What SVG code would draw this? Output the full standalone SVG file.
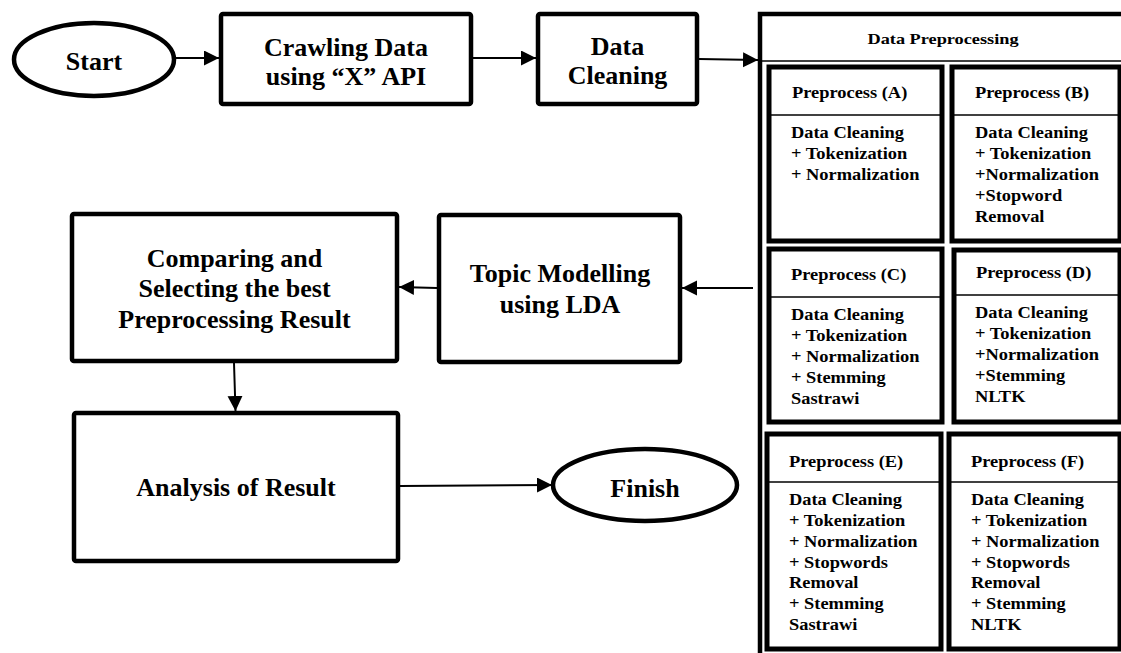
<svg xmlns="http://www.w3.org/2000/svg" width="1121" height="653" viewBox="0 0 1121 653">
<defs>
<style>
.big{font-family:"Liberation Serif","Times New Roman",serif;font-weight:bold;font-size:26px;fill:#000;text-anchor:middle}
.sm{font-family:"Liberation Serif","Times New Roman",serif;font-weight:bold;font-size:16px;fill:#000}
.box{fill:#fff;stroke:#000;stroke-width:4.5}
.ibox{fill:#fff;stroke:#000;stroke-width:5}
.div{stroke:#000;stroke-width:1.3;fill:none}
.con{stroke:#000;stroke-width:2;fill:none;marker-end:url(#arr)}
</style>
<marker id="arr" markerUnits="userSpaceOnUse" markerWidth="16" markerHeight="16" refX="15" refY="7.5" orient="auto">
<path d="M0,0 L15,7.5 L0,15 z" fill="#000"/>
</marker>
</defs>
<rect width="1121" height="653" fill="#fff"/>

<g id="start">
<ellipse cx="94" cy="59.5" rx="80" ry="36.5" class="box"/>
<text x="94" y="70" class="big">Start</text>
</g>

<g id="crawling">
<rect x="221" y="14" width="250" height="90" rx="2" class="box"/>
<text x="346" y="56" class="big">Crawling Data</text>
<text x="346" y="85" class="big">using “X” API</text>
</g>

<g id="cleaning">
<rect x="538" y="14" width="159" height="90" rx="2" class="box"/>
<text x="617.5" y="55" class="big">Data</text>
<text x="617.5" y="84" class="big">Cleaning</text>
</g>

<g id="preprocessing">
<rect x="760" y="14" width="420" height="700" class="box"/>
<line x1="760" y1="61" x2="1121" y2="61" class="div"/>
<text transform="matrix(1.18 0 0 1 943 44)" class="sm" style="text-anchor:middle;font-size:15.5px">Data Preprocessing</text>
</g>

<g id="preA">
<rect x="769" y="67" width="173" height="174" class="ibox"/>
<line x1="769" y1="115" x2="942" y2="115" class="div"/>
<text transform="matrix(1.15 0 0 1 792 98)" class="sm">Preprocess (A)</text>
<text transform="matrix(1.15 0 0 1 791 138)" class="sm">Data Cleaning</text>
<text transform="matrix(1.15 0 0 1 791 159)" class="sm">+ Tokenization</text>
<text transform="matrix(1.15 0 0 1 791 180)" class="sm">+ Normalization</text>
</g>

<g id="preB">
<rect x="952" y="67" width="168" height="174" class="ibox"/>
<line x1="952" y1="115" x2="1121" y2="115" class="div"/>
<text transform="matrix(1.15 0 0 1 975 98)" class="sm">Preprocess (B)</text>
<text transform="matrix(1.15 0 0 1 975 138)" class="sm">Data Cleaning</text>
<text transform="matrix(1.15 0 0 1 975 159)" class="sm">+ Tokenization</text>
<text transform="matrix(1.15 0 0 1 975 180)" class="sm">+Normalization</text>
<text transform="matrix(1.15 0 0 1 975 201)" class="sm">+Stopword</text>
<text transform="matrix(1.15 0 0 1 975 222)" class="sm">Removal</text>
</g>

<g id="preC">
<rect x="769" y="249" width="173" height="173" class="ibox"/>
<line x1="769" y1="297" x2="942" y2="297" class="div"/>
<text transform="matrix(1.15 0 0 1 791 280)" class="sm">Preprocess (C)</text>
<text transform="matrix(1.15 0 0 1 791 320)" class="sm">Data Cleaning</text>
<text transform="matrix(1.15 0 0 1 791 341)" class="sm">+ Tokenization</text>
<text transform="matrix(1.15 0 0 1 791 362)" class="sm">+ Normalization</text>
<text transform="matrix(1.15 0 0 1 791 383)" class="sm">+ Stemming</text>
<text transform="matrix(1.15 0 0 1 791 404)" class="sm">Sastrawi</text>
</g>

<g id="preD">
<rect x="954" y="250" width="166" height="172" class="ibox"/>
<line x1="954" y1="295" x2="1121" y2="295" class="div"/>
<text transform="matrix(1.15 0 0 1 976 278)" class="sm">Preprocess (D)</text>
<text transform="matrix(1.15 0 0 1 975 318)" class="sm">Data Cleaning</text>
<text transform="matrix(1.15 0 0 1 975 339)" class="sm">+ Tokenization</text>
<text transform="matrix(1.15 0 0 1 975 360)" class="sm">+Normalization</text>
<text transform="matrix(1.15 0 0 1 975 381)" class="sm">+Stemming</text>
<text transform="matrix(1.15 0 0 1 975 402)" class="sm">NLTK</text>
</g>

<g id="preE">
<rect x="767" y="434" width="174" height="215" class="ibox"/>
<line x1="767" y1="482" x2="941" y2="482" class="div"/>
<text transform="matrix(1.15 0 0 1 789 467)" class="sm">Preprocess (E)</text>
<text transform="matrix(1.15 0 0 1 789 505)" class="sm">Data Cleaning</text>
<text transform="matrix(1.15 0 0 1 789 526)" class="sm">+ Tokenization</text>
<text transform="matrix(1.15 0 0 1 789 547)" class="sm">+ Normalization</text>
<text transform="matrix(1.15 0 0 1 789 568)" class="sm">+ Stopwords</text>
<text transform="matrix(1.15 0 0 1 789 588)" class="sm">Removal</text>
<text transform="matrix(1.15 0 0 1 789 609)" class="sm">+ Stemming</text>
<text transform="matrix(1.15 0 0 1 789 630)" class="sm">Sastrawi</text>
</g>

<g id="preF">
<rect x="949" y="434" width="171" height="215" class="ibox"/>
<line x1="949" y1="482" x2="1121" y2="482" class="div"/>
<text transform="matrix(1.15 0 0 1 971 467)" class="sm">Preprocess (F)</text>
<text transform="matrix(1.15 0 0 1 971 505)" class="sm">Data Cleaning</text>
<text transform="matrix(1.15 0 0 1 971 526)" class="sm">+ Tokenization</text>
<text transform="matrix(1.15 0 0 1 971 547)" class="sm">+ Normalization</text>
<text transform="matrix(1.15 0 0 1 971 568)" class="sm">+ Stopwords</text>
<text transform="matrix(1.15 0 0 1 971 588)" class="sm">Removal</text>
<text transform="matrix(1.15 0 0 1 971 609)" class="sm">+ Stemming</text>
<text transform="matrix(1.15 0 0 1 971 630)" class="sm">NLTK</text>
</g>

<g id="topic">
<rect x="439" y="215" width="241" height="147" rx="2" class="box"/>
<text x="560" y="282" class="big">Topic Modelling</text>
<text x="560" y="313" class="big">using LDA</text>
</g>

<g id="comparing">
<rect x="72" y="214" width="325" height="147" rx="2" class="box"/>
<text x="234.5" y="267" class="big">Comparing and</text>
<text x="234.5" y="297" class="big">Selecting the best</text>
<text x="234.5" y="328" class="big">Preprocessing Result</text>
</g>

<g id="analysis">
<rect x="74" y="413" width="324" height="148" rx="2" class="box"/>
<text x="236" y="496" class="big">Analysis of Result</text>
</g>

<g id="finish">
<ellipse cx="645" cy="485" rx="92" ry="36" class="box"/>
<text x="645" y="497" class="big">Finish</text>
</g>

<g id="connectors">
<line x1="175" y1="58" x2="219" y2="58" class="con"/>
<line x1="473" y1="58" x2="536" y2="58" class="con"/>
<line x1="699" y1="59" x2="758" y2="60" class="con"/>
<line x1="753" y1="288" x2="682" y2="288" class="con"/>
<line x1="437" y1="288" x2="399" y2="287" class="con"/>
<line x1="234" y1="363" x2="235.5" y2="411" class="con"/>
<line x1="400" y1="486" x2="552" y2="485" class="con"/>
</g>
</svg>
